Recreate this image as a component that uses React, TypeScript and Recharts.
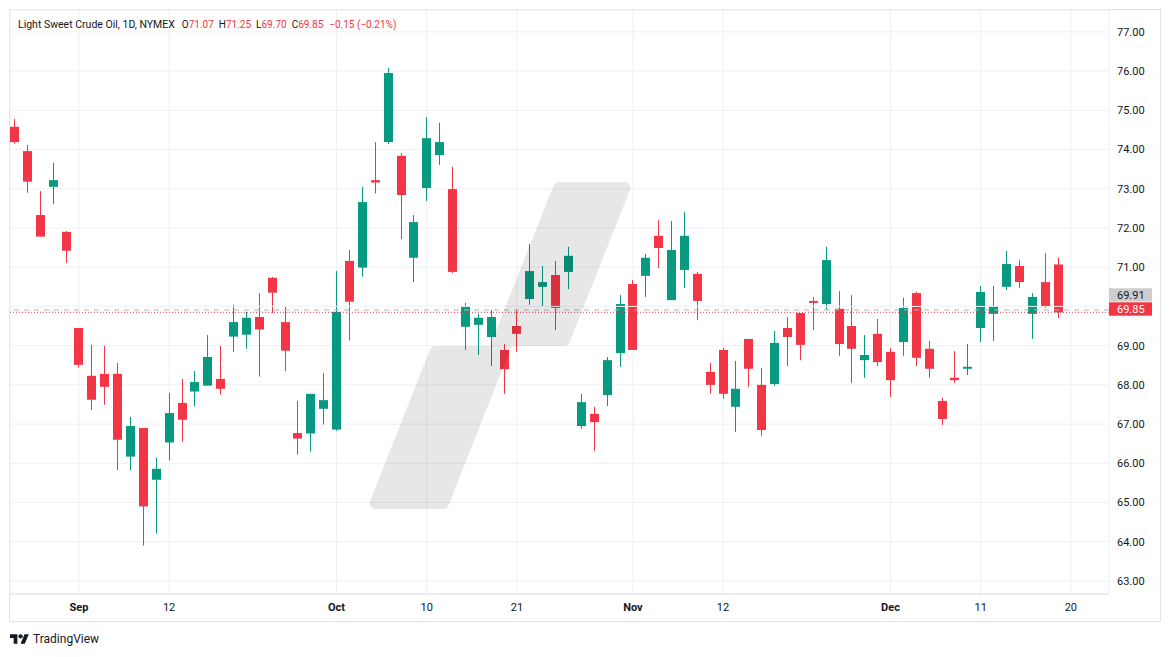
import React from "react";
import { ComposedChart, Bar, XAxis, YAxis, CartesianGrid, ReferenceLine } from "recharts";

// trading days, Aug 26 -> Dec 19 2024
const dates = [
  "Aug 26", "Aug 27", "Aug 28", "Aug 29", "Aug 30",
  "Sep 3", "Sep 4", "Sep 5", "Sep 6", "Sep 9", "Sep 10", "Sep 11", "Sep 12", "Sep 13",
  "Sep 16", "Sep 17", "Sep 18", "Sep 19", "Sep 20", "Sep 23", "Sep 24", "Sep 25", "Sep 26", "Sep 27",
  "Sep 30", "Oct 1", "Oct 2", "Oct 3", "Oct 4", "Oct 7", "Oct 8", "Oct 9", "Oct 10", "Oct 11",
  "Oct 14", "Oct 15", "Oct 16", "Oct 17", "Oct 18", "Oct 21", "Oct 22", "Oct 23", "Oct 24", "Oct 25",
  "Oct 28", "Oct 29", "Oct 30", "Oct 31", "Nov 1", "Nov 4", "Nov 5", "Nov 6", "Nov 7", "Nov 8",
  "Nov 11", "Nov 12", "Nov 13", "Nov 14", "Nov 15", "Nov 18", "Nov 19", "Nov 20", "Nov 21", "Nov 22",
  "Nov 25", "Nov 26", "Nov 27", "Nov 29", "Dec 2", "Dec 3", "Dec 4", "Dec 5", "Dec 6",
  "Dec 9", "Dec 10", "Dec 11", "Dec 12", "Dec 13", "Dec 16", "Dec 17", "Dec 18", "Dec 19",
];

const open = [
  74.58, 73.96, 72.33, 73.05, 71.9, 69.45, 68.23, 68.28, 68.28, 66.17,
  66.9, 65.58, 66.53, 67.54, 67.83, 67.98, 68.15, 69.23, 69.28, 69.73,
  70.73, 69.6, 66.77, 66.76, 67.39, 66.86, 71.16, 70.99, 73.22, 74.19,
  73.84, 71.24, 73.02, 73.86, 72.99, 69.48, 69.53, 69.22, 68.89, 69.5,
  70.19, 70.5, 70.8, 70.88, 66.95, 67.26, 67.74, 68.81, 70.57, 70.78,
  71.8, 70.16, 70.93, 70.83, 68.33, 68.89, 67.44, 69.17, 68.0, 68.02,
  69.45, 69.83, 70.14, 70.06, 69.94, 69.5, 68.63, 69.3, 68.84, 69.09,
  70.34, 68.92, 67.59, 68.18, 68.41, 69.45, 69.81, 70.5, 71.03, 69.81,
  70.62, 71.07,
];

const high = [
  74.78, 74.12, 72.94, 73.66, 71.92, 69.45, 69.02, 68.99, 68.56, 67.18,
  66.9, 66.14, 67.79, 68.15, 68.35, 69.27, 68.99, 70.04, 69.86, 70.34,
  70.75, 70.01, 67.59, 67.77, 68.3, 70.9, 71.44, 73.05, 74.19, 76.08,
  73.91, 72.33, 74.83, 74.68, 73.56, 70.09, 69.81, 69.91, 69.04, 69.91,
  71.59, 71.03, 71.16, 71.52, 67.77, 67.44, 68.71, 70.29, 70.67, 71.34,
  72.2, 72.18, 72.41, 70.88, 68.56, 68.94, 68.61, 69.17, 68.43, 69.37,
  69.73, 69.83, 70.24, 71.52, 70.39, 70.29, 69.27, 69.68, 68.94, 70.22,
  70.37, 69.12, 67.67, 68.86, 69.04, 70.52, 70.52, 71.41, 71.18, 70.34,
  71.36, 71.25,
];

const low = [
  74.15, 72.9, 71.78, 72.61, 71.11, 68.44, 67.36, 67.49, 65.83, 65.83,
  63.9, 64.21, 66.07, 66.55, 67.45, 67.98, 67.75, 68.84, 68.92, 68.21,
  69.83, 68.35, 66.22, 66.3, 66.99, 66.83, 69.13, 70.76, 72.88, 74.14,
  71.72, 70.62, 72.69, 73.61, 70.85, 68.89, 68.76, 68.48, 67.77, 68.84,
  70.04, 70.01, 69.4, 70.44, 66.88, 66.32, 67.46, 68.46, 68.89, 70.24,
  70.98, 70.16, 70.47, 69.65, 67.77, 67.64, 66.8, 67.95, 66.7, 67.97,
  68.48, 68.63, 69.4, 69.91, 68.74, 68.05, 68.18, 68.48, 67.69, 68.74,
  68.48, 68.18, 66.98, 68.05, 68.25, 69.09, 69.12, 70.42, 70.47, 69.17,
  69.96, 69.7,
];

const close = [
  74.19, 73.18, 71.78, 73.22, 71.42, 68.51, 67.62, 67.95, 66.6, 66.95,
  64.9, 65.86, 67.28, 67.11, 68.07, 68.71, 67.9, 69.6, 69.71, 69.41,
  70.35, 68.87, 66.63, 67.77, 67.61, 69.86, 70.12, 72.66, 73.16, 75.95,
  72.84, 72.15, 74.29, 74.19, 70.88, 70.01, 69.71, 69.73, 68.4, 69.3,
  70.9, 70.62, 69.96, 71.29, 67.56, 67.05, 68.63, 70.06, 68.89, 71.24,
  71.49, 71.44, 71.8, 70.14, 68.0, 67.77, 67.9, 68.41, 66.85, 69.07,
  69.22, 69.02, 70.09, 71.18, 69.04, 68.92, 68.76, 68.58, 68.12, 69.96,
  68.69, 68.41, 67.13, 68.12, 68.46, 70.37, 70.01, 71.08, 70.62, 70.24,
  70.0, 69.85,
];

// x-axis labels sit on these bar indices (82 = Dec 20, a future slot)
const tickIndex = [5, 12, 25, 32, 39, 48, 55, 68, 75, 82];
const tickLabels = ["Sep", "12", "Oct", "10", "21", "Nov", "12", "Dec", "11", "20"];
const monthLabels = ["Sep", "Oct", "Nov", "Dec"];
const priceTicks = [63, 64, 65, 66, 67, 68, 69, 71, 72, 73, 74, 75, 76, 77];

const lastClose = 69.85;
const prevMark = 69.91;

const UP = "#089981";
const DOWN = "#f23645";
const TEXT = "#131722";
const GRID = "#eff0f3";
const BORDER = "#e0e3eb";

const data = dates.map((d, i) => ({
  i,
  date: d,
  open: open[i],
  high: high[i],
  low: low[i],
  close: close[i],
}));

const Candle = (props: any) => {
  const { x, y, width, height, payload } = props;
  if (x == null || y == null || !payload) return null;
  const { open: o, high: h, low: l, close: c } = payload;
  const color = c >= o ? UP : DOWN;
  const top = Math.min(y, y + height);
  const span = Math.abs(height);
  const k = span / (h - l || 1);
  const bx = Math.round(x + width / 2 - 4.5);
  const bodyTop = top + (h - Math.max(o, c)) * k;
  const bodyH = Math.max(1, Math.abs(o - c) * k);
  return (
    <g>
      <line x1={bx + 4.5} x2={bx + 4.5} y1={top} y2={top + span} stroke={color} strokeWidth={1} />
      <rect x={bx} y={bodyTop} width={9} height={bodyH} fill={color} />
    </g>
  );
};

const DateTick = (props: any) => {
  const { x, y, payload } = props;
  const label = tickLabels[tickIndex.indexOf(payload.value)] ?? "";
  const bold = monthLabels.includes(label);
  return (
    <text x={x} y={y} dy="0.71em" textAnchor="middle" fontSize={11} fontWeight={bold ? 700 : 400} fill={TEXT}>
      {label}
    </text>
  );
};

const priceTag = (value: number, bg: string, fg: string, dy: number) => (props: any) => {
  const vb = props.viewBox || {};
  const x = (vb.x ?? 0) + (vb.width ?? 0);
  const y = vb.y ?? 0;
  return (
    <g>
      <rect x={x} y={y + dy} width={43} height={13.4} fill={bg} />
      <text x={x + 8} y={y + dy + 6.9} dy="0.355em" fontSize={11} fill={fg}>
        {value.toFixed(2)}
      </text>
    </g>
  );
};

const Watermark = () => (
  <svg width={1171} height={657} style={{ position: "absolute", left: 0, top: 0, pointerEvents: "none" }}>
    <g opacity={0.09}>
      <polygon
        points="559.1,188 624.2,188 564,340 507.5,340 442.9,503 375.8,503 435.6,352 494.1,352"
        fill="#000"
        stroke="#000"
        strokeWidth={12}
        strokeLinejoin="round"
      />
    </g>
  </svg>
);

const Legend = () => (
  <div
    style={{
      position: "absolute",
      left: 18,
      top: 18,
      fontSize: 10.5,
      lineHeight: "14px",
      whiteSpace: "nowrap",
      color: TEXT,
      display: "flex",
    }}
  >
    <span>Light Sweet Crude Oil, 1D, NYMEX</span>
    <span style={{ marginLeft: 7, fontSize: 10 }}>O<span style={{ color: DOWN }}>71.07</span></span>
    <span style={{ marginLeft: 5, fontSize: 10 }}>H<span style={{ color: DOWN }}>71.25</span></span>
    <span style={{ marginLeft: 5, fontSize: 10 }}>L<span style={{ color: DOWN }}>69.70</span></span>
    <span style={{ marginLeft: 5, fontSize: 10 }}>C<span style={{ color: DOWN }}>69.85</span></span>
    <span style={{ marginLeft: 6, fontSize: 10, color: DOWN }}>−0.15 (−0.21%)</span>
  </div>
);

const Logo = () => (
  <div style={{ position: "absolute", left: 10, top: 631, display: "flex", alignItems: "center", height: 16 }}>
    <svg width={19} height={15} viewBox="0 0 36 28">
      <path d="M14 22H7V11H0V4h14v18zM28 22h-8l7.5-18h8L28 22z" fill={TEXT} />
      <circle cx={20} cy={8} r={4} fill={TEXT} />
    </svg>
    <span style={{ marginLeft: 4, fontSize: 12, color: TEXT }}>TradingView</span>
  </div>
);

export default function App() {
  return (
    <div
      style={{
        position: "absolute",
        left: 0,
        top: 0,
        width: 1171,
        height: 657,
        background: "#fff",
        fontFamily: "Roboto, 'Noto Sans', sans-serif",
        overflow: "hidden",
      }}
    >
      <div
        style={{
          position: "absolute",
          left: 9,
          top: 9,
          width: 1152,
          height: 613,
          border: `1px solid ${BORDER}`,
          boxSizing: "border-box",
        }}
      />
      <div style={{ position: "absolute", left: 0, top: 0 }}>
        <ComposedChart width={1171} height={657} data={data} margin={{ top: 10, right: 11, bottom: 35, left: 10 }}>
          <CartesianGrid stroke={GRID} />
          <XAxis
            dataKey="i"
            type="number"
            domain={[-0.35, 84.96]}
            allowDataOverflow
            ticks={tickIndex}
            interval={0}
            tick={<DateTick />}
            tickLine={false}
            tickSize={0}
            tickMargin={9}
            axisLine={{ stroke: BORDER }}
            height={28}
          />
          <YAxis
            orientation="right"
            type="number"
            domain={[62.667, 77.558]}
            allowDataOverflow
            ticks={priceTicks}
            interval={0}
            tickFormatter={(v: number) => v.toFixed(2)}
            tick={{ fill: TEXT, fontSize: 11 }}
            tickLine={false}
            tickSize={0}
            tickMargin={8}
            axisLine={false}
            width={51}
          />
          <ReferenceLine y={70} stroke={GRID} />
          <ReferenceLine
            y={prevMark}
            stroke="#b2b5be"
            strokeDasharray="5 5"
            label={priceTag(prevMark, "#cdcdcf", TEXT, -21.7)}
          />
          <ReferenceLine
            y={lastClose}
            stroke={DOWN}
            strokeDasharray="1 2"
            label={priceTag(lastClose, DOWN, "#ffffff", -10)}
          />
          <Bar
            dataKey={(d: any) => [d.low, d.high]}
            barSize={9}
            shape={(p: any) => <Candle {...p} />}
            isAnimationActive={false}
          />
        </ComposedChart>
      </div>
      <Watermark />
      <Legend />
      <Logo />
    </div>
  );
}
